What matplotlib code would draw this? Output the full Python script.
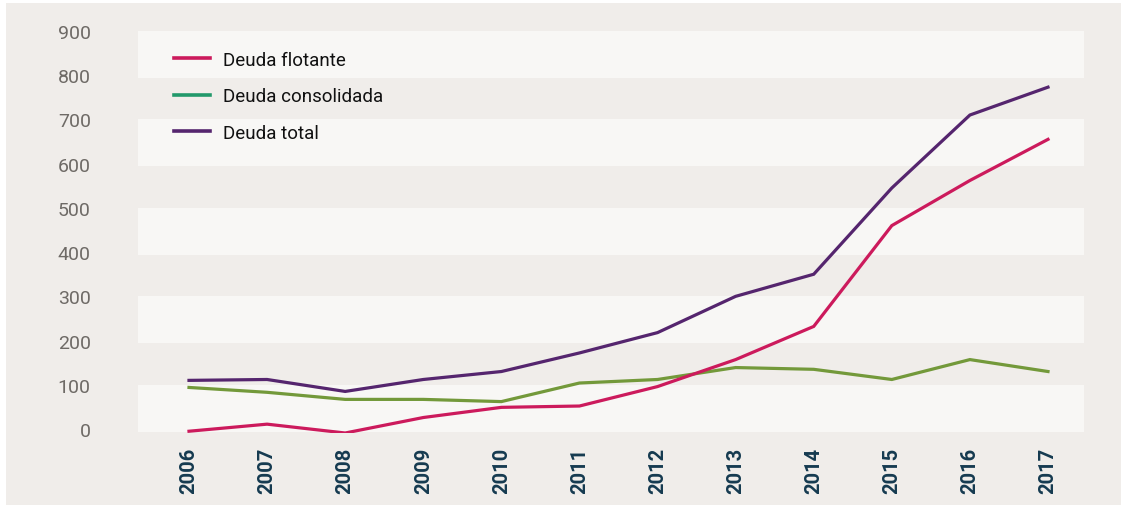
import matplotlib
matplotlib.use('Agg')
import matplotlib.pyplot as plt
from matplotlib.lines import Line2D
from matplotlib.patches import Rectangle

# values
years = [2006, 2007, 2008, 2009, 2010, 2011, 2012, 2013, 2014, 2015, 2016, 2017]
deuda_flotante = [-5, 11, -9, 26, 49, 52, 96, 157, 232, 460, 562, 655]
deuda_consolidada = [94, 83, 67, 67, 62, 104, 112, 139, 135, 112, 157, 130]
deuda_total = [110, 112, 85, 112, 130, 172, 218, 300, 350, 545, 710, 773]
y_ticks = [0, 100, 200, 300, 400, 500, 600, 700, 800, 900]
band_tops = [900, 700, 500, 300, 100]
legend_labels = ['Deuda flotante', 'Deuda consolidada', 'Deuda total']

pink = '#cc1a5c'
green = '#73993a'
green_legend = '#22996b'
purple = '#55256e'
beige = '#f0edea'
band = '#f8f7f5'

plt.rcParams['font.family'] = ['Roboto', 'DejaVu Sans']

fig = plt.figure(figsize=(11.21, 5.06), dpi=100)
fig.patch.set_facecolor('white')
fig.patches.append(Rectangle((6 / 1121, 0), 1, (506 - 4) / 506, transform=fig.transFigure,
                             facecolor=beige, edgecolor='none', zorder=-10))

ax = fig.add_axes([138 / 1121, (506 - 434) / 506, 946 / 1121, 402 / 506])
ax.patch.set_alpha(0)

for top in band_tops:
    ax.axhspan(top - 106, top, color=band, zorder=0, lw=0)

ax.plot(years, deuda_flotante, color=pink, lw=2.3, zorder=3, solid_joinstyle='miter')
ax.plot(years, deuda_consolidada, color=green, lw=2.3, zorder=2, solid_joinstyle='miter')
ax.plot(years, deuda_total, color=purple, lw=2.3, zorder=3, solid_joinstyle='miter')

ax.set_xlim(2005.347, 2017.461)
ax.set_ylim(-9, 900)

ax.set_yticks(y_ticks)
ax.set_yticklabels([str(v) for v in y_ticks], fontsize=14, color='#6e6a66', fontweight='normal')
ax.set_xticks(years)
ax.set_xticklabels([str(y) for y in years], rotation=90, fontsize=14.5,
                   fontweight='bold', color='#153a50')
ax.tick_params(axis='y', length=0, pad=34)
ax.tick_params(axis='x', length=0, pad=10)
for s in ax.spines.values():
    s.set_visible(False)

handles = [Line2D([], [], color=c, lw=2.6) for c in (pink, green_legend, purple)]
leg = fig.legend(handles, legend_labels, loc='upper left',
                 bbox_to_anchor=(174 / 1121, 1 - 52 / 506), frameon=False,
                 prop={'size': 13.5, 'weight': 'normal'}, handlelength=1.92,
                 handletextpad=0.69, labelspacing=0.98, borderpad=0, borderaxespad=0)
for t in leg.get_texts():
    t.set_color('#111111')

fig.savefig('out.png', dpi=100, facecolor='white')
